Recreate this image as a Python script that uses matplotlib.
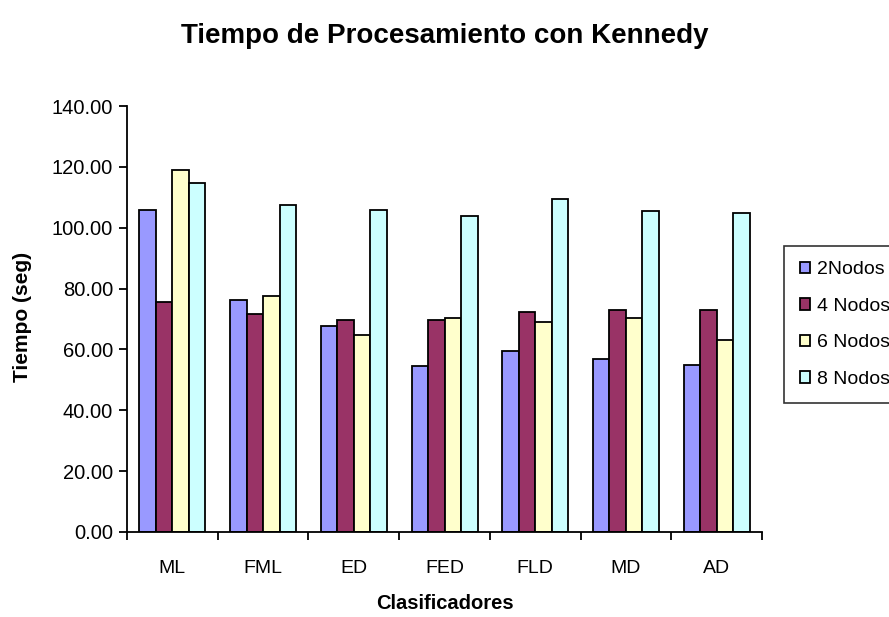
import numpy as np
import matplotlib.pyplot as plt
from matplotlib.ticker import FormatStrFormatter

plt.rcParams['font.family'] = ['Liberation Sans', 'DejaVu Sans']

# Data
clasificadores = ['ML', 'FML', 'ED', 'FED', 'FLD', 'MD', 'AD']
nodos2 = [105.9, 76.3, 67.8, 54.6, 59.4, 56.8, 54.8]
nodos4 = [75.6, 71.8, 69.7, 69.7, 72.3, 73.1, 73.1]
nodos6 = [119.1, 77.7, 64.9, 70.3, 69.0, 70.3, 63.0]
nodos8 = [114.6, 107.3, 105.9, 104.0, 109.5, 105.6, 104.9]
series = ['2Nodos', '4 Nodos', '6 Nodos', '8 Nodos']
colores = ['#9999FF', '#993366', '#FFFFCC', '#CCFFFF']

fig = plt.figure(figsize=(8.89, 6.17), dpi=100)
ax = fig.add_axes([0.1429, 0.1378, 0.7143, 0.6904])

x = np.arange(len(clasificadores))
w = 0.182
datos = [nodos2, nodos4, nodos6, nodos8]
for i, (vals, nombre, c) in enumerate(zip(datos, series, colores)):
    ax.bar(x + (i - 1.5) * w, vals, w, color=c, edgecolor='black',
           linewidth=1.3, label=nombre)

ax.set_xlim(-0.5, len(clasificadores) - 0.5)
ax.set_ylim(0, 140)
ax.set_yticks(np.arange(0, 141, 20))
ax.yaxis.set_major_formatter(FormatStrFormatter('%.2f'))

# category labels between boundary ticks
ax.set_xticks(np.arange(-0.5, len(clasificadores), 1))
ax.set_xticklabels([])
ax.set_xticks(x, minor=True)
ax.set_xticklabels(clasificadores, minor=True)
ax.tick_params(axis='x', which='minor', length=0, pad=20, labelsize=14)
ax.tick_params(axis='x', which='major', length=6, width=1.3, direction='out')
ax.tick_params(axis='y', length=6, width=1.3, direction='out', labelsize=14.5, pad=4)

for s in ['top', 'right']:
    ax.spines[s].set_visible(False)
for s in ['left', 'bottom']:
    ax.spines[s].set_linewidth(1.3)

ax.set_xlabel('Clasificadores', fontsize=14.5, fontweight='bold')
ax.xaxis.set_label_coords(0.5, -0.1455)
ax.set_ylabel('Tiempo (seg)', fontsize=15, fontweight='bold')
ax.yaxis.set_label_coords(-0.150, 0.505)
fig.suptitle('Tiempo de Procesamiento con Kennedy', fontsize=20,
             fontweight='bold', y=0.963)

leg = fig.legend(loc='center left', bbox_to_anchor=(0.882, 0.474),
                 fontsize=14, frameon=True, fancybox=False,
                 handlelength=0.55, handleheight=0.55, handletextpad=0.35,
                 labelspacing=1.0, borderpad=0.8, borderaxespad=0)
leg.get_frame().set_edgecolor('black')
leg.get_frame().set_linewidth(1.2)

fig.savefig('out.png', dpi=100)
